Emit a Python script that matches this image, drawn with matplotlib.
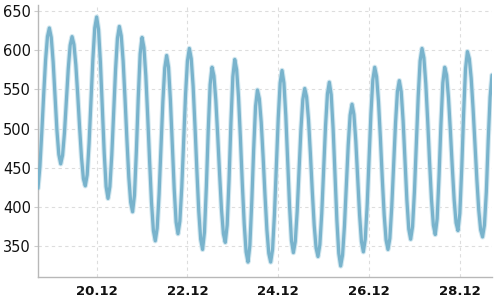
import matplotlib
matplotlib.use("Agg")
import matplotlib.pyplot as plt
import matplotlib.dates as mdates
import pandas as pd

start_time = "2023-12-18 17:00"
# hourly water level readings
level = [
    424, 451, 495, 543, 587, 617, 628, 616, 585, 541, 498, 467,
    455, 466, 495, 536, 576, 606, 617, 607, 581, 543, 501, 463,
    436, 427, 441, 481, 534, 588, 628, 642, 626, 584, 526, 469,
    426, 411, 426, 466, 520, 575, 615, 630, 618, 586, 538, 486,
    438, 406, 394, 415, 471, 539, 595, 616, 603, 567, 515, 458,
    406, 370, 357, 373, 416, 475, 534, 577, 593, 578, 536, 480,
    423, 381, 366, 382, 425, 484, 543, 586, 602, 589, 554, 502,
    446, 394, 359, 346, 368, 426, 498, 556, 578, 567, 536, 491,
    442, 397, 366, 355, 377, 435, 508, 566, 588, 575, 540, 488,
    430, 379, 343, 330, 351, 406, 473, 528, 549, 538, 508, 464,
    415, 371, 341, 330, 346, 391, 452, 513, 558, 574, 558, 516,
    458, 400, 357, 342, 356, 394, 446, 499, 537, 551, 540, 511,
    468, 420, 377, 348, 337, 352, 392, 448, 503, 544, 559, 543,
    500, 442, 383, 341, 325, 339, 376, 428, 479, 517, 531, 518,
    484, 437, 390, 356, 343, 359, 402, 460, 519, 562, 578, 566,
    534, 488, 436, 390, 358, 346, 360, 400, 453, 507, 547, 561,
    547, 510, 460, 409, 372, 359, 375, 420, 480, 541, 586, 602,
    590, 557, 510, 457, 410, 377, 365, 385, 439, 505, 558, 578,
    568, 539, 497, 451, 409, 380, 370, 392, 449, 519, 576, 598,
    589, 564, 525, 480, 435, 396, 371, 362, 377, 419, 485, 540,
    568,
]
y_ticks = [350, 400, 450, 500, 550, 600, 650]
x_tick_dates = ["2023-12-20", "2023-12-22", "2023-12-24", "2023-12-26", "2023-12-28"]

times = pd.date_range(start_time, periods=len(level), freq="h")

fig = plt.figure(figsize=(5, 3), dpi=100)
ax = fig.add_axes([0.076, 0.0767, 0.908, 0.906])

ax.plot(times, level, color="#d3e8f0", lw=3.8, solid_capstyle="round", zorder=2)
ax.plot(times, level, color="#79b3cc", lw=2.3, solid_capstyle="round", zorder=3)

ax.set_xlim(times[0], times[-1])
ax.set_ylim(311, 657)
ax.set_yticks(y_ticks)
ax.set_xticks(pd.to_datetime(x_tick_dates))
ax.xaxis.set_major_formatter(mdates.DateFormatter("%d.%m"))

ax.grid(True, color="#dddddd", linestyle=(0, (3, 3)), linewidth=0.8, zorder=0)
for s in ["top", "right"]:
    ax.spines[s].set_visible(False)
for s in ["left", "bottom"]:
    ax.spines[s].set_color("#b8b8b8")
    ax.spines[s].set_linewidth(1.0)

ax.tick_params(axis="y", length=3, width=0.8, color="#cccccc", pad=2,
               labelsize=10.5, labelcolor="#111111")
ax.tick_params(axis="x", length=0, pad=6, labelsize=9.5, labelcolor="#111111")
for lab in ax.get_xticklabels():
    lab.set_fontweight("bold")

fig.savefig("out.png", dpi=100)
